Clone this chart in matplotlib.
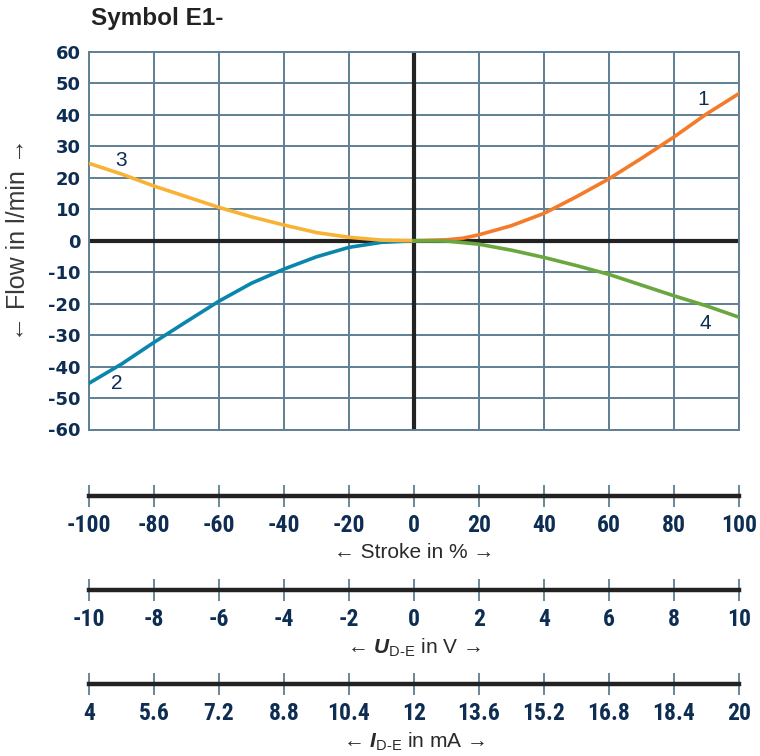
import matplotlib
matplotlib.use("Agg")
import matplotlib.pyplot as plt

# stroke in % and flow in l/min
stroke_1 = [0, 10, 15, 20, 30, 40, 50, 60, 70, 80, 90, 100]
flow_1 = [0, 0.3, 0.8, 1.9, 4.8, 8.7, 14.0, 19.7, 26.2, 33.0, 40.3, 46.8]

stroke_2 = [-100, -90, -80, -70, -60, -50, -40, -30, -20, -10, 0]
flow_2 = [-45.3, -39.2, -32.3, -25.7, -19.2, -13.5, -9.0, -5.1, -2.1, -0.5, 0]

stroke_3 = [-100, -90, -80, -70, -60, -50, -40, -30, -20, -10, 0]
flow_3 = [24.6, 21.2, 17.4, 14.0, 10.6, 7.6, 5.0, 2.6, 1.1, 0.2, 0]

stroke_4 = [0, 10, 20, 30, 40, 50, 60, 70, 80, 90, 100]
flow_4 = [0, -0.1, -1.1, -3.0, -5.3, -7.9, -10.7, -14.1, -17.5, -20.7, -24.3]

curve_labels = ["1", "2", "3", "4"]
label_pos = [(89, 45), (-91.5, -45.3), (-90, 25.6), (89.5, -26.2)]

stroke_ticks = list(range(-100, 101, 20))
volt_ticks = list(range(-10, 11, 2))
current_ticks = [4, 5.6, 7.2, 8.8, 10.4, 12, 13.6, 15.2, 16.8, 18.4, 20]
y_ticks = list(range(-60, 61, 10))

GRID = "#5f7f94"
NAVY = "#0e2d52"
ORANGE = "#f47b2b"
BLUE = "#0a86ad"
YELLOW = "#f8b336"
GREEN = "#6aa83f"
BLACK = "#222222"

NARROW = ["Roboto Condensed", "Liberation Sans Narrow", "Liberation Sans"]

plt.rcParams["mathtext.fontset"] = "custom"
plt.rcParams["mathtext.bf"] = "Liberation Sans:italic:bold"
plt.rcParams["mathtext.rm"] = "Liberation Sans"

W, H = 760, 756
fig = plt.figure(figsize=(W / 100, H / 100), dpi=100)


def fx(px):
    return px / W


def fy(py):
    return 1 - py / H


left, right = fx(89), fx(739)
ax = fig.add_axes([left, fy(429.5), right - left, fy(52) - fy(429.5)])
ax.set_xlim(-100, 100)
ax.set_ylim(-60, 60)
ax.set_xticks(stroke_ticks)
ax.set_yticks(y_ticks)
ax.grid(True, color=GRID, lw=1.4)
ax.set_axisbelow(True)
for s in ax.spines.values():
    s.set_color(GRID)
    s.set_linewidth(1.4)
ax.tick_params(length=0, labelbottom=False, pad=6)
ax.set_yticklabels([str(v) for v in y_ticks], fontsize=13, fontweight="bold",
                   color=NAVY, family="DejaVu Sans")
ax.axhline(0, color=BLACK, lw=3, zorder=2)
ax.axvline(0, color=BLACK, lw=3, zorder=2)

for xs, ys, c in [(stroke_1, flow_1, ORANGE), (stroke_2, flow_2, BLUE),
                  (stroke_3, flow_3, YELLOW), (stroke_4, flow_4, GREEN)]:
    ax.plot(xs, ys, color=c, lw=2.6, zorder=3, solid_joinstyle="round")

for lab, (x, y) in zip(curve_labels, label_pos):
    ax.text(x, y, lab, fontsize=15, color=NAVY, ha="center", va="center",
            family="Liberation Sans")

fig.text(fx(91), fy(18), "Symbol E1-", fontsize=17.5, fontweight="bold",
         color=BLACK, ha="left", va="center", family="Liberation Sans")
fig.text(fx(18), fy(240), "\u2190 Flow in l/min \u2192", rotation=90, fontsize=18,
         color="#3a3a3a", ha="center", va="center",
         family=["Liberation Sans", "DejaVu Sans"])


def scale_axis(y_line, lim, ticks, labels, title, y_title):
    sax = fig.add_axes([left, fy(y_line), right - left, 0.0001])
    sax.set_xlim(*lim)
    sax.set_ylim(0, 1)
    sax.set_yticks([])
    for k in ["top", "left", "right"]:
        sax.spines[k].set_visible(False)
    sax.spines["bottom"].set_color(BLACK)
    sax.spines["bottom"].set_linewidth(3.2)
    sax.set_xticks(ticks)
    sax.set_xticklabels(labels, fontsize=17, fontweight="bold", color=NAVY,
                        family=NARROW)
    sax.tick_params(axis="x", direction="inout", length=16, width=1.3,
                    color=GRID, pad=5)
    sax.patch.set_visible(False)
    fig.text((left + right) / 2, fy(y_title), title, fontsize=15, color="#2a2a2a",
             ha="center", va="center", family="Liberation Sans")


scale_axis(496, (-100, 100), stroke_ticks, [str(v) for v in stroke_ticks],
           "\u2190 Stroke in % \u2192", 552)
scale_axis(590, (-10, 10), volt_ticks, [str(v) for v in volt_ticks],
           "\u2190 $\\mathbf{U}_{\\mathrm{D\\text{-}E}}$ in V \u2192", 648)
scale_axis(684, (4, 20), current_ticks, [f"{v:g}" for v in current_ticks],
           "\u2190 $\\mathbf{I}_{\\mathrm{D\\text{-}E}}$ in mA \u2192", 742)

fig.savefig("out.png", dpi=100)
